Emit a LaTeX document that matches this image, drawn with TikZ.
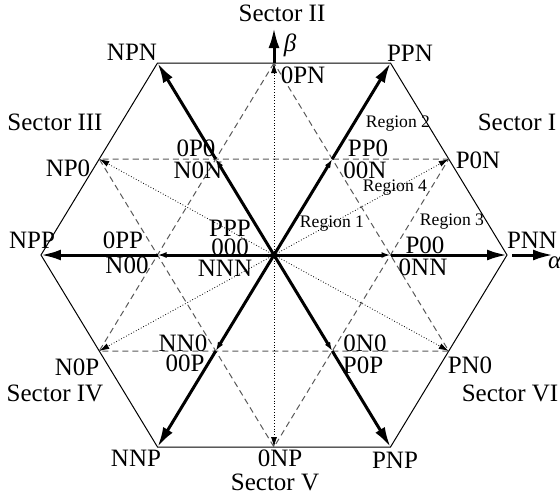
\documentclass[tikz,border=0pt]{standalone}
\usepackage{fontspec}
\setmainfont{Liberation Serif}
\usetikzlibrary{arrows.meta,calc}

\tikzset{
    hexline/.style={line width=0.5pt},
    starline/.style={line width=0.5pt, black!65, dash pattern=on 3pt off 2pt},
    bigvec/.style={line width=1.5pt, -{Latex[length=10pt,width=5.5pt]}},
    smallvec/.style={line width=1.5pt, -{Latex[length=4.5pt,width=3pt]}},
    medvec/.style={line width=0.4pt, densely dotted, -{Latex[length=5pt,width=3pt]}},
    lbl/.style={font=\fontsize{12.5}{14}\selectfont, inner sep=0pt},
    reglbl/.style={font=\fontsize{8.8}{10}\selectfont, inner sep=0pt},
}

\begin{document}
\begin{tikzpicture}[x=0.5pt, y=0.5pt]
    \useasboundingbox (-274,-244) rectangle (286,255);
    % hexagon corners, mid points and inner points
    \coordinate (O) at (0,0);
    \foreach \n/\a in {PNN/0, PPN/60, NPN/120, NPP/180, NNP/240, PNP/300}{
        \coordinate (\n) at ({233*cos(\a)},{221.7*sin(\a)});
    }
    \foreach \m/\p/\q in {P0N/PNN/PPN, 0PN/PPN/NPN, NP0/NPN/NPP, N0P/NPP/NNP, 0NP/NNP/PNP, PN0/PNP/PNN}{
        \coordinate (\m) at ($(\p)!0.5!(\q)$);
    }
    \foreach \s/\b in {P00/PNN, PP0/PPN, 0P0/NPN, 0PP/NPP, 00P/NNP, 0N0/PNP}{
        \coordinate (\s) at ($(O)!0.5!(\b)$);
    }
    \coordinate (alphaend) at (279,0);
    \coordinate (betaend) at (0,227);

    \draw[hexline] (PNN) -- (PPN) -- (NPN) -- (NPP) -- (NNP) -- (PNP) -- cycle;
    \draw[starline] (P0N) -- (NP0) -- (0NP) -- cycle;
    \draw[starline] (0PN) -- (N0P) -- (PN0) -- cycle;

    \foreach \m in {P0N, 0PN, NP0, N0P, 0NP, PN0}{
        \draw[medvec] (O) -- (\m);
    }
    \foreach \s/\b in {P00/PNN, PP0/PPN, 0P0/NPN, 0PP/NPP, 00P/NNP, 0N0/PNP}{
        \draw[smallvec] (O) -- (\s);
        \draw[bigvec] (\s) -- (\b);
    }
    \draw[bigvec, shorten <=2.5pt] (PNN) -- (alphaend);
    \draw[bigvec] (0PN) -- (betaend);

    % axis names
    \node[lbl] (alpha) at (281,-8) {\textit{α}};
    \node[lbl] (beta) at (16,210) {\textit{β}};

    % sectors
    \node[lbl] (sec1) at (243,133) {Sector I};
    \node[lbl] (sec2) at (8,242) {Sector II};
    \node[lbl] (sec3) at (-219,133) {Sector III};
    \node[lbl] (sec4) at (-219,-138) {Sector IV};
    \node[lbl] (sec5) at (1,-227) {Sector V};
    \node[lbl] (sec6) at (236,-138) {Sector VI};

    % regions
    \node[reglbl] (reg1) at (58,31) {Region 1};
    \node[reglbl] (reg2) at (124,131) {Region 2};
    \node[reglbl] (reg3) at (178,33) {Region 3};
    \node[reglbl] (reg4) at (121,67) {Region 4};

    % switching states
    \node[lbl] (lPNN) at (258,15) {PNN};
    \node[lbl] (lPPN) at (136,202) {PPN};
    \node[lbl] (lNPN) at (-142,203) {NPN};
    \node[lbl] (lNPP) at (-242,15) {NPP};
    \node[lbl] (lNNP) at (-138,-203) {NNP};
    \node[lbl] (lPNP) at (121,-205) {PNP};
    \node[lbl] (lP0N) at (204,95) {P0N};
    \node[lbl] (l0PN) at (29,180) {0PN};
    \node[lbl] (lNP0) at (-206,87) {NP0};
    \node[lbl] (lN0P) at (-197,-112) {N0P};
    \node[lbl] (l0NP) at (6,-203) {0NP};
    \node[lbl] (lPN0) at (196,-110) {PN0};
    \node[lbl] (lPP0) at (94,107) {PP0};
    \node[lbl] (l00N) at (91,85) {00N};
    \node[lbl] (l0P0) at (-78,107) {0P0};
    \node[lbl] (lN0N) at (-76,85) {N0N};
    \node[lbl] (l0PP) at (-151,15) {0PP};
    \node[lbl] (lN00) at (-147,-10) {N00};
    \node[lbl] (lP00) at (151,10) {P00};
    \node[lbl] (l0NN) at (149,-12) {0NN};
    \node[lbl] (lNN0) at (-91,-88) {NN0};
    \node[lbl] (l00P) at (-89,-108) {00P};
    \node[lbl] (l0N0) at (91,-88) {0N0};
    \node[lbl] (lP0P) at (89,-110) {P0P};
    \node[lbl] (lPPP) at (-44,27) {PPP};
    \node[lbl] (l000) at (-44,8) {000};
    \node[lbl] (lNNN) at (-49,-13) {NNN};
\end{tikzpicture}
\end{document}
